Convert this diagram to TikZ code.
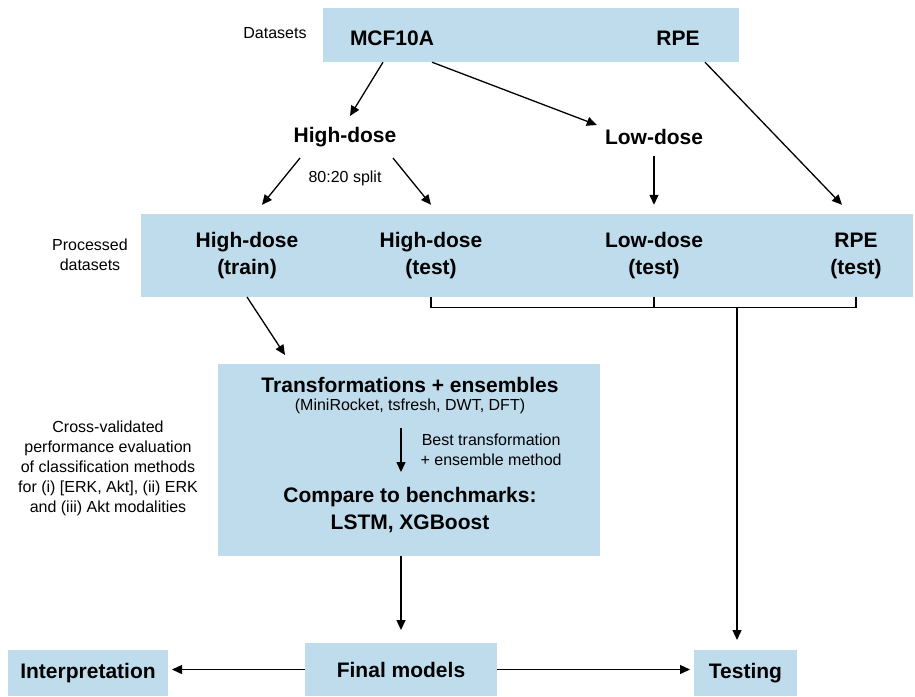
\documentclass[tikz,border=0pt]{standalone}
\usepackage{fontspec}
\setmainfont{Liberation Sans}
\usetikzlibrary{arrows.meta}
\definecolor{boxblue}{RGB}{191,220,236}

\begin{document}
\begin{tikzpicture}[x=1pt,y=-1pt,
    box/.style={fill=boxblue, inner sep=0pt, outer sep=0pt},
    big/.style={font=\fontsize{21}{27}\selectfont\bfseries, align=center, inner sep=0pt},
    small/.style={font=\fontsize{16}{20}\selectfont, align=center, inner sep=0pt},
    arr/.style={line width=1.3pt, -{Triangle[length=10pt,width=9pt]}},
    gap/.style={shorten >=#1},
    bracket/.style={line width=1.1pt}]
    \useasboundingbox (0,0) rectangle (915,696);

    \node[box, minimum width=416, minimum height=54] (data) at (531,35) {};
    \node[big, minimum height=48] (mcf) at (392,38) {MCF10A};
    \node[big, minimum height=48] (rpe) at (678,38) {RPE};
    \node[small] (datalab) at (275,33) {Datasets};

    \node[big, inner ysep=11pt] (hd) at (345,137) {High-dose};
    \node[big, inner ysep=11pt] (ld) at (654,137) {Low-dose};
    \node[small] (split) at (345,178) {80:20 split};

    \node[box, minimum width=772, minimum height=83] (proc) at (527,255.5) {};
    \node[small] (proclab) at (90,255) {Processed\\datasets};
    \node[big, minimum height=102] (hdtrain) at (247,256) {High-dose\\(train)};
    \node[big, minimum height=102] (hdtest) at (431,256) {High-dose\\(test)};
    \node[big, minimum height=102] (ldtest) at (654,256) {Low-dose\\(test)};
    \node[big, minimum height=102] (rpetest) at (856,256) {RPE\\(test)};

    \node[box, minimum width=382, minimum height=192] (trbox) at (409,460) {};
    \node[big] (trtitle) at (410,384.5) {Transformations + ensembles};
    \node[small] (trsub) at (410,406) {(MiniRocket, tsfresh, DWT, DFT)};
    \node[big] (compare) at (410,510) {Compare to benchmarks:\\LSTM, XGBoost};
    \node[small] (cvtext) at (108,468) {Cross-validated\\performance evaluation\\of classification methods\\for (i) [ERK, Akt], (ii) ERK\\and (iii) Akt modalities};

    \node[box, big, minimum width=192, minimum height=53] (final) at (401,669.5) {Final models};
    \node[box, big, minimum width=160, minimum height=46] (interp) at (88,673) {Interpretation};
    \node[box, big, minimum width=103, minimum height=46] (testing) at (745.5,673) {Testing};

    \draw[arr] ([xshift=-9pt]mcf.south) -- ([xshift=5pt]hd.north);
    \draw[arr] ([xshift=40pt]mcf.south) -- ([xshift=-8pt,yshift=12pt]ld.west);
    \draw[arr] ([xshift=27pt]rpe.south) -- ([xshift=-14pt]rpetest.north);
    \draw[arr] ([xshift=-45pt]hd.south) -- ([xshift=15pt]hdtrain.north);
    \draw[arr] ([xshift=48pt]hd.south) -- (hdtest.north);
    \draw[arr] (ld.south) -- (ldtest.north);

    \draw[bracket] (hdtest |- proc.south) -- (hdtest.south) -- (rpetest.south) -- (rpetest |- proc.south);
    \draw[bracket] (ldtest |- proc.south) -- (ldtest.south);
    \coordinate (join) at (737,307);
    \draw[arr, gap=10pt] (join) -- (join |- testing.north);

    \draw[arr] (hdtrain |- proc.south) -- ([xshift=67pt,yshift=9pt]trbox.north west);
    \draw[arr] ([shift={(-9,14)}]trsub.south) -- node[small, anchor=west, xshift=19pt] (best) {Best transformation\\+ ensemble method} ([shift={(-9,-15)}]compare.north);
    \draw[arr, gap=13pt] (final |- trbox.south) -- (final.north);
    \draw[arr, gap=4pt] (final.west) -- (final.west -| interp.east);
    \draw[arr, gap=4pt] (final.east) -- (final.east -| testing.west);
\end{tikzpicture}
\end{document}
